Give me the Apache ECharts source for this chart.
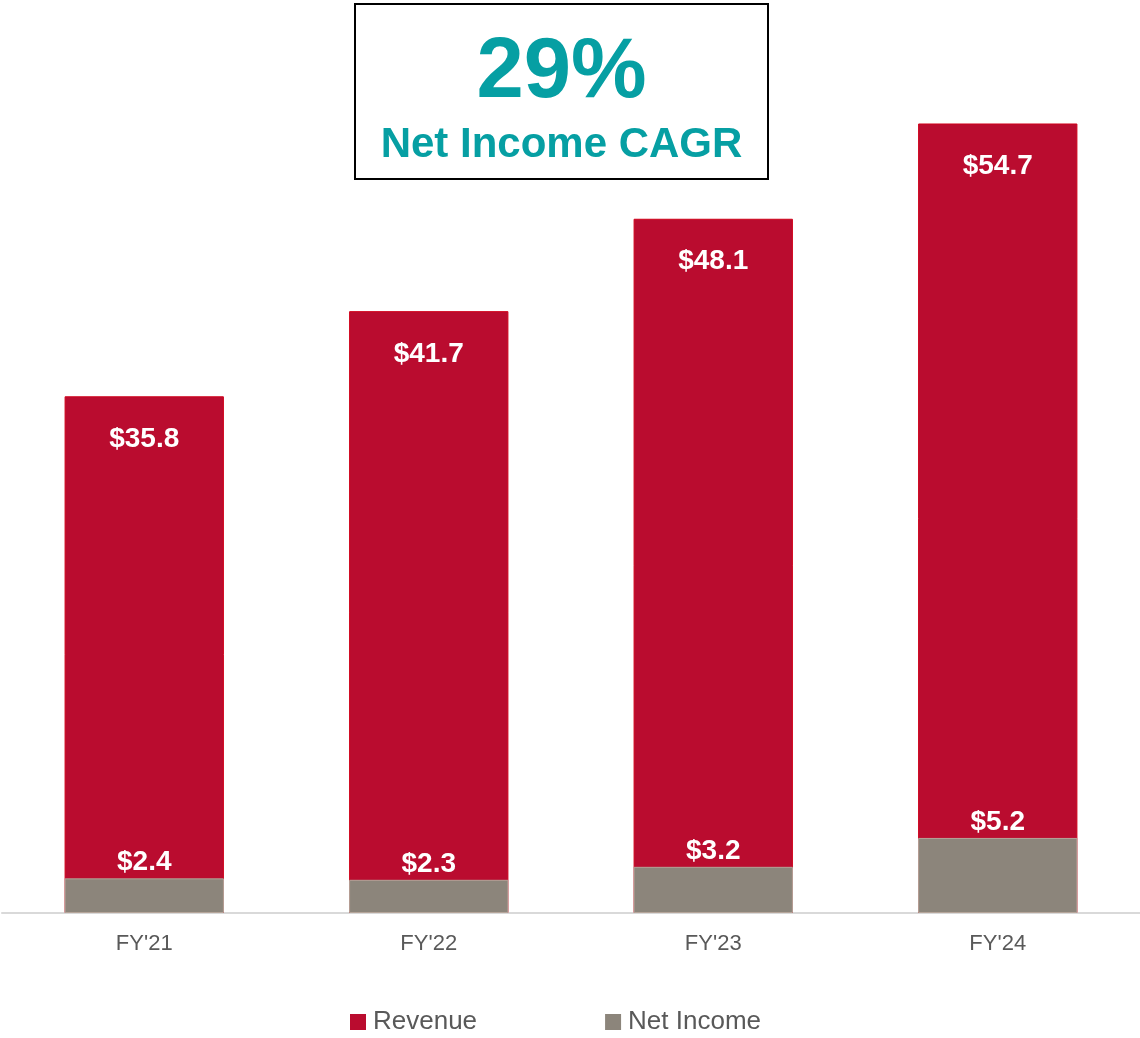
<!DOCTYPE html>
<html>
<head>
<meta charset="utf-8">
<script src="https://cdn.jsdelivr.net/npm/echarts@6/dist/echarts.min.js"></script>
<style>
	html, body { margin: 0; padding: 0; background: #fff; }
	#chart { width: 1140px; height: 1038px; }
</style>
</head>
<body>
<div id="chart"></div>
<script>
	// data
	var categories = ["FY'21", "FY'22", "FY'23", "FY'24"];
	var revenue = [35.8, 41.7, 48.1, 54.7];
	var netIncome = [2.4, 2.3, 3.2, 5.2];
	var cagrValue = '29%';
	var cagrLabel = 'Net Income CAGR';

	var font = '"Liberation Sans", Arial, sans-serif';
	var myChart = echarts.init(document.getElementById('chart'));

	var option = {
		animation: false,
		textStyle: { fontFamily: font },
		grid: { left: 2, right: 0, top: 47, bottom: 125 },
		legend: {
			top: 1004,
			left: 345,
			itemWidth: 16,
			itemHeight: 16,
			itemGap: 128,
			icon: 'rect',
			itemStyle: { borderWidth: 0 },
			textStyle: { fontSize: 26, color: '#595959', fontFamily: font, padding: [0, 0, 0, 2] },
			data: ['Revenue', 'Net Income']
		},
		xAxis: {
			type: 'category',
			data: categories,
			axisLine: { lineStyle: { color: '#d9d9d9', width: 2 } },
			axisTick: { show: false },
			axisLabel: { fontSize: 22, color: '#595959', margin: 20, fontFamily: font }
		},
		yAxis: {
			type: 'value',
			min: 0,
			max: 60,
			show: false,
			splitLine: { show: false }
		},
		series: [
			{
				name: 'Revenue',
				type: 'bar',
				data: revenue,
				barWidth: '56%',
				barGap: '-100%',
				itemStyle: { color: '#BA0C2F', borderColor: '#D0021B', borderWidth: 1 },
				label: {
					show: true,
					position: 'insideTop',
					distance: 29,
					color: '#fff',
					fontWeight: 'bold',
					fontSize: 28,
					formatter: function(p) { return '$' + p.value.toFixed(1); }
				},
				z: 2
			},
			{
				name: 'Net Income',
				type: 'bar',
				data: netIncome,
				barWidth: '56%',
				itemStyle: { color: '#8C857B', borderColor: '#B5A59A', borderWidth: 1 },
				label: {
					show: true,
					position: 'top',
					distance: 2,
					color: '#fff',
					fontWeight: 'bold',
					fontSize: 28,
					formatter: function(p) { return '$' + p.value.toFixed(1); }
				},
				z: 3
			}
		],
		graphic: [
			{
				type: 'rect',
				shape: { x: 355, y: 4, width: 413, height: 175 },
				style: { fill: '#fff', stroke: '#000', lineWidth: 2 },
				z: 10
			},
			{
				type: 'text',
				x: 561.5,
				y: 74,
				style: {
					text: cagrValue,
					fill: '#069FA3',
					font: 'bold 85px ' + font,
					align: 'center',
					verticalAlign: 'middle'
				},
				z: 11
			},
			{
				type: 'text',
				x: 561.5,
				y: 145,
				style: {
					text: cagrLabel,
					fill: '#069FA3',
					font: 'bold 42px ' + font,
					align: 'center',
					verticalAlign: 'middle'
				},
				z: 11
			}
		]
	};
	myChart.setOption(option);
</script>
</body>
</html>
